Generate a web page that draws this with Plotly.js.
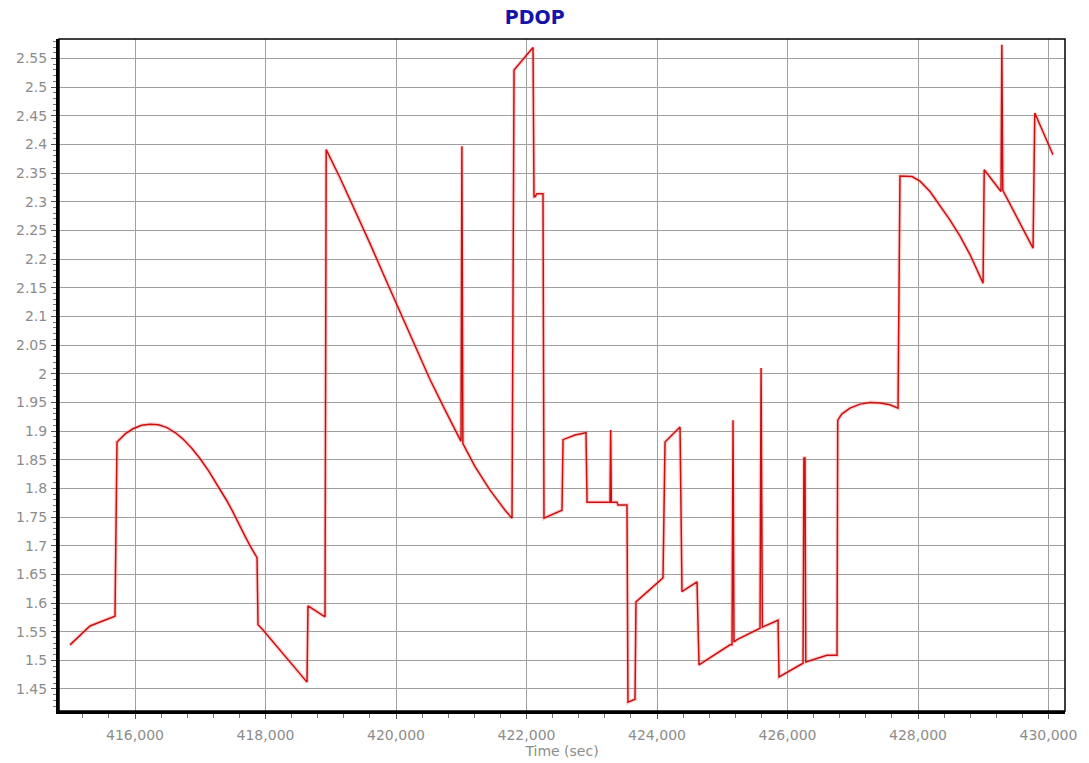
<!DOCTYPE html>
<html>
<head>
<meta charset="utf-8">
<script src="https://cdn.plot.ly/plotly-3.0.1.min.js"></script>
<style>
html,body{margin:0;padding:0;background:#fff;}
#chart{width:1089px;height:763px;}
</style>
</head>
<body>
<div id="chart"></div>
<script>
// Time (sec)
var timeSec = [
  415004, 415310, 415693,
  415724, 415850, 415969, 416100, 416230, 416360, 416490, 416620, 416736, 416870,
  416996, 417130, 417257, 417410, 417500, 417580, 417680, 417762, 417870,
  417885, 417962, 418636, 418651, 418912,
  418930, 419142, 419372, 419602, 419832, 420069, 420291, 420521, 420751, 420996,
  421010, 421025, 421211, 421441, 421671, 421778,
  421809, 422100, 422115, 422130, 422160, 422253, 422268, 422544, 422560, 422743,
  422912, 422928, 423280, 423290, 423300, 423387, 423402, 423540, 423555, 423663,
  423678, 424092, 424123, 424353, 424383, 424613, 424644, 425119, 425150, 425165,
  425180, 425226, 425579, 425595, 425615, 425855, 425870, 426238, 426252, 426268,
  426280, 426605, 426759, 426770, 426835, 426958, 427111, 427265, 427418, 427571,
  427694, 427724, 427908, 428031, 428184, 428337, 428491, 428644, 428797, 428997,
  429015, 429272, 429285, 429300, 429763, 429790, 430069
];
// PDOP values
var pdop = [
  1.527, 1.560, 1.577,
  1.881, 1.895, 1.904, 1.910, 1.912, 1.911, 1.906, 1.897, 1.886, 1.870,
  1.852, 1.830, 1.807, 1.778, 1.759, 1.740, 1.718, 1.700, 1.679,
  1.562, 1.553, 1.462, 1.595, 1.576,
  2.391, 2.342, 2.285, 2.227, 2.167, 2.106, 2.046, 1.990, 1.937, 1.882,
  2.397, 1.878, 1.838, 1.797, 1.762, 1.748,
  2.530, 2.569, 2.309, 2.309, 2.314, 2.314, 1.748, 1.762, 1.885, 1.893,
  1.897, 1.776, 1.776, 1.902, 1.776, 1.776, 1.771, 1.771, 1.427, 1.432,
  1.602, 1.644, 1.881, 1.907, 1.620, 1.637, 1.492, 1.527, 1.527, 1.919,
  1.532, 1.536, 1.556, 2.010, 1.558, 1.570, 1.471, 1.495, 1.853, 1.853,
  1.497, 1.509, 1.509, 1.919, 1.930, 1.940, 1.947, 1.950, 1.949, 1.946,
  1.940, 2.345, 2.344, 2.336, 2.318, 2.294, 2.268, 2.240, 2.208, 2.158,
  2.356, 2.318, 2.574, 2.320, 2.219, 2.455, 2.382
];
var chartTitle = "PDOP";
var xTitle = "Time (sec)";

var tickFont = {family: "DejaVu Sans, Verdana, sans-serif", size: 14, color: "#8c8c8c"};

var traces = [
  {x: timeSec, y: pdop, type: "scatter", mode: "lines",
   line: {color: "rgba(255,130,130,0.35)", width: 4}, hoverinfo: "skip", showlegend: false},
  {x: timeSec, y: pdop, type: "scatter", mode: "lines",
   line: {color: "#c81010", width: 1.5}, showlegend: false}
];

var layout = {
  width: 1089, height: 763,
  paper_bgcolor: "#ffffff", plot_bgcolor: "#ffffff",
  margin: {l: 59, r: 24, t: 39, b: 52, pad: 0},
  title: {text: "<b>" + chartTitle + "</b>", xref: "container", x: 0.491, xanchor: "center",
          yref: "container", y: 0.977, yanchor: "middle",
          font: {family: "DejaVu Sans, Verdana, sans-serif", size: 19, color: "#1414a8"}},
  xaxis: {
    range: [414835, 430253], dtick: 2000, tick0: 0, tickformat: ",d",
    showgrid: true, gridcolor: "#a0a0a0", gridwidth: 1, zeroline: false,
    showline: true, linecolor: "#000", linewidth: 3,
    ticks: "outside", ticklen: 5, tickcolor: "#555", tickwidth: 1,
    minor: {dtick: 400, ticks: "outside", ticklen: 4, tickcolor: "#777", showgrid: false},
    ticklabelstandoff: 4,
    tickfont: tickFont,
    title: {text: xTitle, font: {family: "DejaVu Sans, Verdana, sans-serif", size: 14, color: "#8c8c8c"}, standoff: 1},
    automargin: false
  },
  yaxis: {
    range: [1.4116, 2.584], dtick: 0.05, tick0: 0,
    showgrid: true, gridcolor: "#a0a0a0", gridwidth: 1, zeroline: false,
    showline: true, linecolor: "#000", linewidth: 3,
    ticks: "outside", ticklen: 5, tickcolor: "#555", tickwidth: 1,
    minor: {dtick: 0.01, ticks: "outside", ticklen: 3, tickcolor: "#777", showgrid: false},
    ticklabelstandoff: 1,
    tickfont: tickFont,
    automargin: false
  },
  shapes: [
    {type: "rect", xref: "paper", yref: "paper", x0: 0, x1: 1, y0: 0, y1: 1,
     line: {color: "#000", width: 1.5}, fillcolor: "rgba(0,0,0,0)", layer: "above"}
  ],
  showlegend: false
};

Plotly.newPlot("chart", traces, layout, {staticPlot: true, displayModeBar: false});
</script>
</body>
</html>
